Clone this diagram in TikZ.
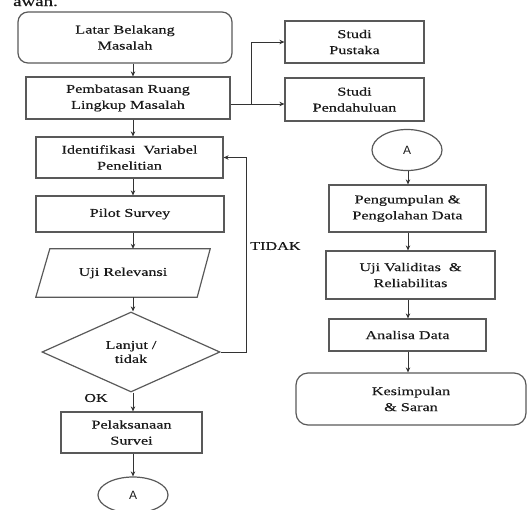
\documentclass[tikz,border=0pt]{standalone}
\usepackage{fontspec}
\setmainfont{Liberation Serif}[FakeStretch=1.35,FakeBold=0.4]
\newfontfamily\sansA{Liberation Sans}
\usetikzlibrary{shapes.geometric,arrows.meta,calc}
\begin{document}
\begin{tikzpicture}[x=1pt,y=-1pt,
  line/.style={draw=black!80, line width=1pt},
  arr/.style={line, -{Stealth[length=5pt,width=4.5pt]}},
  box/.style={draw=black!65, line width=1.2pt, rectangle, inner sep=0pt, align=center, font=\fontsize{12}{16}\selectfont, text=black!90},
  rbox/.style={box, rounded corners=10pt},
  oval/.style={draw=black!65, line width=1.2pt, ellipse, inner sep=0pt, font=\sansA\fontsize{12}{14}\selectfont, text=black!90},
  lbl/.style={font=\fontsize{12}{14}\selectfont, text=black!90, inner sep=0pt}
]
\useasboundingbox (0,0) rectangle (527,509);

\node[lbl, anchor=base west, font=\fontsize{14}{14}\selectfont] (top) at (13,6) {awan.};

% left column
\node[rbox, minimum width=214pt, minimum height=51pt] (latar) at (125,37.5) {Latar Belakang\\Masalah};
\node[box, minimum width=204pt, minimum height=42pt] (pemb) at (128,98) {Pembatasan Ruang\\Lingkup Masalah};
\node[box, minimum width=187pt, minimum height=41pt] (ident) at (129.5,157.5) {Identifikasi\ \ Variabel\\Penelitian};
\node[box, minimum width=188pt, minimum height=36pt] (pilot) at (130,214) {Pilot Survey};
\node[lbl, minimum width=174pt, minimum height=48pt] (uji) at (123,273) {Uji Relevansi};
\draw[draw=black!65, line width=1.2pt] ($(uji.north west)+(14,0)$) -- (uji.north east) -- ($(uji.south east)+(-13,0)$) -- (uji.south west) -- cycle;
\node[draw=black!65, line width=1.2pt, diamond, aspect=2.2, minimum width=178pt, minimum height=80pt, inner sep=0pt, align=center, font=\fontsize{12}{14}\selectfont, text=black!90] (dia) at (131,352) {Lanjut /\\tidak};
\node[box, minimum width=141pt, minimum height=41pt] (pelak) at (131.5,432.5) {Pelaksanaan\\Survei};
\node[oval, minimum width=70pt, minimum height=36pt] (a1) at (133,495) {A};

\node[lbl, anchor=west] (tidak) at (250,246) {TIDAK};
\node[lbl] (ok) at (96,398) {OK};

% right column
\node[box, minimum width=139pt, minimum height=42pt] (pust) at (354.5,42) {Studi\\Pustaka};
\node[box, minimum width=139pt, minimum height=43pt] (pend) at (354.5,99.5) {Studi\\Pendahuluan};
\node[oval, minimum width=70pt, minimum height=41pt] (a2) at (407,150) {A};
\node[box, minimum width=157pt, minimum height=47pt] (peng) at (407.5,208.5) {Pengumpulan \&\\Pengolahan Data};
\node[box, minimum width=169pt, minimum height=48pt] (val) at (410.5,275) {Uji Validitas\ \ \&\\Reliabilitas};
\node[box, minimum width=157pt, minimum height=32pt] (anal) at (407.5,335) {Analisa Data};
\node[rbox, rounded corners=12pt, minimum width=230pt, minimum height=52pt] (kes) at (411,399) {Kesimpulan\\\& Saran};

% coordinates
\coordinate (colA) at (133,0);
\coordinate (colB) at (408,0);
\coordinate (br) at (251,104);
\coordinate (loopx) at (246,0);

% left arrows
\draw[arr] (latar.south -| colA) -- (pemb.north -| colA);
\draw[arr] (pemb.south -| colA) -- (ident.north -| colA);
\draw[arr] (ident.south -| colA) -- (pilot.north -| colA);
\draw[arr] (pilot.south -| colA) -- (uji.north -| colA);
\draw[arr] (uji.south -| colA) -- (dia.north -| colA);
\draw[arr] (dia.south -| colA) -- (pelak.north -| colA);
\draw[arr] (pelak.south -| colA) -- (a1.north -| colA);
\draw[arr] (dia.east) -- (dia.east -| loopx) |- (ident.east);

% branch to studi
\draw[arr] (pemb.east |- br) -- (pend.west |- br);
\draw[arr] (br) |- (pust.west);

% right arrows
\draw[arr] (a2.south -| colB) -- (peng.north -| colB);
\draw[arr] (peng.south -| colB) -- (val.north -| colB);
\draw[arr] (val.south -| colB) -- (anal.north -| colB);
\draw[arr] (anal.south -| colB) -- (kes.north -| colB);
\end{tikzpicture}
\end{document}
